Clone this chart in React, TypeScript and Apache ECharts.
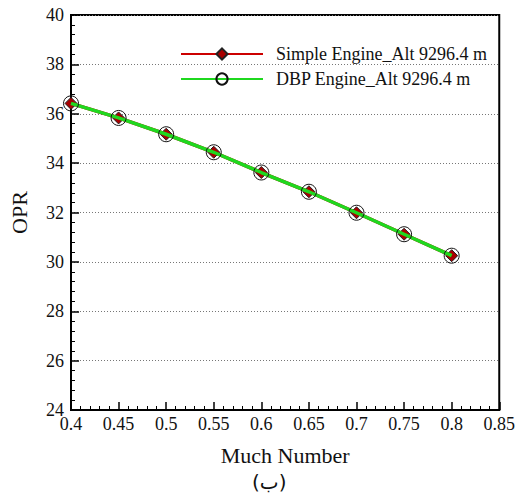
import React, { useEffect, useRef } from "react";
import * as echarts from "echarts";

const machNumbers = [0.4, 0.45, 0.5, 0.55, 0.6, 0.65, 0.7, 0.75, 0.8];
const simpleEngineOPR = [36.42, 35.83, 35.17, 34.44, 33.62, 32.84, 31.99, 31.12, 30.25];
const dbpEngineOPR = [36.42, 35.83, 35.17, 34.44, 33.62, 32.84, 31.99, 31.12, 30.25];
const seriesNames = ["Simple Engine_Alt 9296.4 m", "DBP Engine_Alt 9296.4 m"];
const xAxisTitle = "Much Number";
const yAxisTitle = "OPR";
const captionText = "(ب)";

const FONT = "Liberation Serif";

export default function App() {
  const ref = useRef<HTMLDivElement>(null);
  useEffect(() => {
    if (!ref.current) return;
    const chart = echarts.init(ref.current, null, { renderer: "svg" });
    const simpleData = machNumbers.map((x, i) => [x, simpleEngineOPR[i]]);
    const dbpData = machNumbers.map((x, i) => [x, dbpEngineOPR[i]]);
    chart.setOption({
      animation: false,
      backgroundColor: "#fff",
      textStyle: { fontFamily: FONT },
      grid: {
        left: 70,
        right: 16,
        top: 15,
        bottom: 88,
        show: true,
        borderColor: "#000",
        borderWidth: 2,
        backgroundColor: "transparent",
      },
      legend: {
        orient: "vertical",
        left: 175,
        top: 40,
        itemWidth: 82,
        itemHeight: 14,
        itemGap: 7,
        textStyle: {
          fontFamily: FONT,
          fontSize: 18,
          color: "#111",
          padding: [0, 0, 0, 8],
        },
        data: seriesNames,
      },
      xAxis: {
        type: "value",
        min: 0.4,
        max: 0.85,
        interval: 0.05,
        name: xAxisTitle,
        nameLocation: "middle",
        nameGap: 34,
        nameTextStyle: { fontFamily: FONT, fontSize: 22, color: "#111" },
        axisLine: { show: true, lineStyle: { color: "#000", width: 2 } },
        axisTick: { show: true, inside: true, length: 8, lineStyle: { color: "#000", width: 1.5 } },
        minorTick: { show: true, splitNumber: 5, length: 4, lineStyle: { color: "#000", width: 1 } },
        splitLine: { show: false },
        axisLabel: {
          fontFamily: FONT,
          fontSize: 18,
          color: "#111",
          margin: 5,
          formatter: (v: number) => String(+v.toFixed(2)),
        },
      },
      yAxis: {
        type: "value",
        min: 24,
        max: 40,
        interval: 2,
        name: yAxisTitle,
        nameLocation: "middle",
        nameGap: 41,
        nameTextStyle: { fontFamily: FONT, fontSize: 22, color: "#111" },
        axisLine: { show: true, lineStyle: { color: "#000", width: 2 } },
        axisTick: { show: true, inside: true, length: 8, lineStyle: { color: "#000", width: 1.5 } },
        minorTick: { show: true, splitNumber: 5, length: 4, lineStyle: { color: "#000", width: 1 } },
        splitLine: { show: true, lineStyle: { color: "#777", type: [1, 2], width: 1 } },
        axisLabel: { fontFamily: FONT, fontSize: 18, color: "#111", margin: 7 },
      },
      series: [
        {
          name: seriesNames[0],
          type: "line",
          data: simpleData,
          symbol: "diamond",
          symbolSize: 12,
          lineStyle: { color: "#cc0000", width: 3.5 },
          itemStyle: { color: "#a80000", borderColor: "#222", borderWidth: 1 },
          z: 2,
        },
        {
          name: seriesNames[1],
          type: "line",
          data: dbpData,
          symbol: "circle",
          symbolSize: 15,
          lineStyle: { color: "#1fd81f", width: 3.5 },
          itemStyle: { color: "rgba(255,255,255,0)", borderColor: "#111", borderWidth: 1 },
          z: 3,
        },
      ],
      graphic: [
        {
          type: "text",
          left: 252,
          top: 472,
          style: {
            text: captionText,
            font: "20px 'DejaVu Sans', 'Noto Sans', sans-serif",
            fill: "#111",
          },
        },
      ],
    });
    return () => chart.dispose();
  }, []);
  return (
    <div
      ref={ref}
      style={{ position: "fixed", left: 0, top: 0, width: 518, height: 498 }}
    />
  );
}
